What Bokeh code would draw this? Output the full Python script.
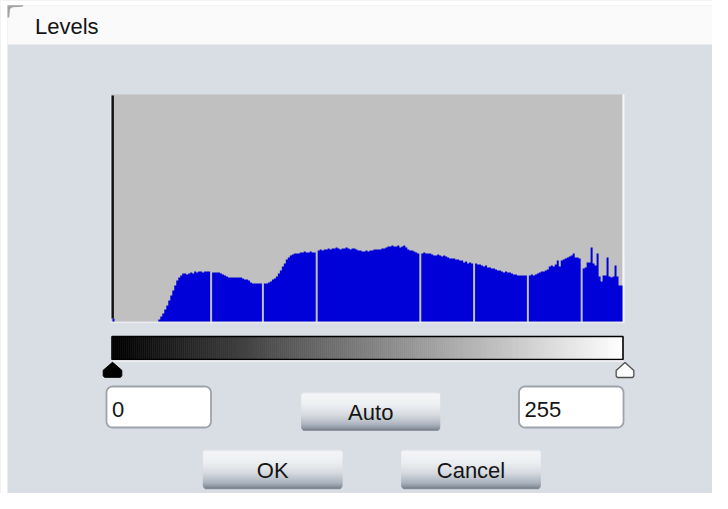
import numpy as np
from bokeh.plotting import figure
from bokeh.models import Range1d
from bokeh.embed import file_html
from bokeh.resources import INLINE
from bokeh.core.properties import value

# ---------------- data ----------------
TITLE = "Levels"
LOW_LEVEL = 0
HIGH_LEVEL = 255
BUTTON_LABELS = ["Auto", "OK", "Cancel"]

# histogram counts for the 256 grey levels
COUNTS = (
    [3] + [0] * 22 +
    [2, 5, 8, 12, 16, 21, 26, 31, 36, 41, 44, 46, 48, 48, 47, 48, 49, 48, 50, 49, 50, 50, 49, 50, 50, 50] +
    [0] +
    [49, 49, 49, 49, 48, 47, 46, 45, 44, 44, 44, 44, 44, 44, 44, 43, 42, 42, 41, 39, 38, 38, 38, 38, 38] +
    [0] +
    [38, 38, 39, 40, 42, 43, 45, 48, 51, 55, 58, 62, 64, 66, 67, 68, 68, 68, 69, 69, 70, 69, 69, 70, 69, 69] +
    [0] +
    [71, 72, 71, 72, 72, 73, 72, 73, 73, 74, 73, 72, 73, 73, 74, 73, 72, 73, 73, 72, 71, 71, 70, 70, 71,
     70, 71, 71, 72, 72, 72, 72, 73, 73, 74, 75, 75, 76, 75, 75, 76, 74, 75, 76, 74, 72, 71, 71, 70, 69, 68] +
    [0] +
    [68, 69, 68, 68, 68, 67, 66, 66, 67, 66, 65, 66, 65, 64, 63, 63, 63, 62, 62, 61, 61, 59, 60, 58, 59, 58] +
    [0] +
    [58, 57, 57, 56, 55, 56, 54, 54, 53, 53, 52, 51, 51, 50, 49, 50, 49, 49, 48, 47, 47, 46, 46, 46, 46, 46] +
    [0] +
    [46, 47, 46, 47, 48, 49, 50, 50, 51, 52, 55, 56, 55, 57, 61, 55, 61, 62, 63, 64, 65, 66, 68, 64, 64, 63] +
    [0] +
    [53, 54, 59, 59, 74, 58, 56, 68, 45, 40, 46, 46, 64, 45, 44, 45, 56, 45, 36, 36]
)
assert len(COUNTS) == 256

# ---------------- layout helpers ----------------
W, H = 712, 493
TEXT_DY = -8.0  # correction for where the svg text baseline lands


def fx(ix):
    return ix


def fy(iy):
    return iy


def ty(iy):
    return iy + TEXT_DY


BODY = "#d9dde4"
TITLEBAR = "#fafafa"
PANEL = "#c0c0c0"
BLUE = "#0000d8"
TEXT = "#151515"
FONT = value("Liberation Sans")

p = figure(width=W, height=H, x_range=Range1d(0, W), y_range=Range1d(H, 0),
           output_backend="svg", toolbar_location=None,
           x_axis_location=None, y_axis_location=None, min_border=0,
           outline_line_color=None, background_fill_color=BODY,
           border_fill_color=BODY)
p.grid.visible = False

# histogram scales (bins -> panel)
NB = len(COUNTS)
PX0, PX1 = fx(112), fx(622)
PY0, PYT = fy(321), fy(94)
span_x = NB * W / (PX1 - PX0)
sx = -PX0 * span_x / W
cmax = PY0 - PYT
span_y = cmax * H / (PY0 - PYT)
sy = -(H - PY0) * span_y / H
p.extra_x_ranges = {"hx": Range1d(sx, sx + span_x)}
p.extra_y_ranges = {"hy": Range1d(sy, sy + span_y)}

# outer white margin + title bar
p.quad(left=[0], right=[fx(7)], top=[0], bottom=[H], fill_color="#ffffff", line_color=None)
p.quad(left=[0], right=[W], top=[0], bottom=[fy(5)], fill_color="#ffffff", line_color=None)
p.quad(left=[fx(7)], right=[W], top=[fy(5)], bottom=[fy(44)], fill_color=TITLEBAR, line_color=None)
p.patch(x=[fx(7), fx(23), fx(22), fx(12), fx(9.5), fx(8.7), fx(7)],
        y=[fy(4.8), fy(4.8), fy(6.3), fy(6.8), fy(8.5), fy(17), fy(17)],
        fill_color="#a2a2a2", line_color=None)
p.text(x=[fx(34.5)], y=[ty(34.3)], text=[TITLE], text_font=FONT, text_font_size="22px",
       text_color=TEXT, text_baseline="alphabetic", text_align="left")

# histogram panel
p.quad(left=[fx(111)], right=[fx(622)], top=[fy(94)], bottom=[fy(321)],
       fill_color=PANEL, line_color=None)
p.segment(x0=[fx(623)], y0=[fy(94)], x1=[fx(623)], y1=[fy(322)], line_color="#f6f6f6", line_width=2)
p.segment(x0=[fx(110)], y0=[fy(322)], x1=[fx(624)], y1=[fy(322)], line_color="#e9ebee", line_width=1.5)
p.segment(x0=[fx(110)], y0=[fy(94)], x1=[fx(110)], y1=[fy(322)], line_color="#e4e6ea", line_width=1)

edges = np.arange(NB + 1)
hx = np.concatenate([[0], np.repeat(edges, 2)[1:-1], [NB]])
hy = np.concatenate([[0], np.repeat(np.array(COUNTS, dtype=float), 2), [0]])
p.patch(x=hx, y=hy, x_range_name="hx", y_range_name="hy",
        fill_color=BLUE, line_color=None)
p.segment(x0=[fx(112.2)], y0=[fy(95)], x1=[fx(112.2)], y1=[fy(318)], line_color="#111111", line_width=2.4)

# gradient bar
levels = np.arange(NB)
greys = ["#%02x%02x%02x" % (g, g, g) for g in levels]
p.quad(left=levels, right=levels + 1, top=fy(336.5), bottom=fy(358.5),
       fill_color=greys, line_color=greys, line_width=0.6, x_range_name="hx")
p.quad(left=[fx(111.5)], right=[fx(622.5)], top=[fy(336)], bottom=[fy(359)],
       fill_color=None, line_color="#000000", line_width=1.6)
p.segment(x0=[fx(111)], y0=[fy(360.5)], x1=[fx(623)], y1=[fy(360.5)], line_color="#f4f5f7", line_width=1.5)


# slider markers
def slider_x(v):
    return fx(112 + v * (624.5 - 112) / 255.0)


house_dx = np.array([0, 9.3, 9.3, 8, -8, -9.3, -9.3])
house_dy = np.array([0, 8, 13.5, 15, 15, 13.5, 8])
mx = slider_x(LOW_LEVEL)
p.patch(x=mx + house_dx, y=fy(361.8) + house_dy, fill_color="#000000", line_color="#000000", line_width=1)
mx = slider_x(HIGH_LEVEL)
p.patch(x=mx + house_dx * 0.95, y=fy(362) + house_dy, fill_color="#ffffff", line_color="#505050", line_width=1.3)


# rounded rect helper
def rrect(x0, y0, x1, y1, r, n=8):
    xs, ys = [], []
    for cx, cy, a0 in [(x1 - r, y0 + r, -90), (x1 - r, y1 - r, 0), (x0 + r, y1 - r, 90), (x0 + r, y0 + r, 180)]:
        for k in range(n + 1):
            a = np.radians(a0 + 90.0 * k / n)
            xs.append(fx(cx + r * np.cos(a)))
            ys.append(fy(cy + r * np.sin(a)))
    return xs, ys


# entry boxes
for (x0, x1), val in [((106, 210.5), LOW_LEVEL), ((518.5, 623), HIGH_LEVEL)]:
    xs, ys = rrect(x0, 386, x1, 427, 6)
    p.patch(x=xs, y=ys, fill_color="#ffffff", line_color="#9ea3ab", line_width=1.8)
    p.text(x=[fx(x0 + 5.5)], y=[ty(416.5)], text=[str(val)], text_font=FONT, text_font_size="22px",
           text_color=TEXT, text_baseline="alphabetic", text_align="left")

# buttons
STOPS = [(0.0, (214, 218, 223)), (0.05, (246, 247, 249)), (0.35, (238, 240, 243)),
         (0.6, (214, 218, 224)), (0.85, (170, 178, 189)), (0.95, (135, 144, 157)), (1.0, (112, 120, 133))]


def grad(t):
    for (t0, c0), (t1, c1) in zip(STOPS[:-1], STOPS[1:]):
        if t <= t1:
            u = (t - t0) / (t1 - t0)
            c = [int(round(a + (b - a) * u)) for a, b in zip(c0, c1)]
            return "#%02x%02x%02x" % tuple(c)
    return "#%02x%02x%02x" % STOPS[-1][1]


def button(x0, y0, x1, y1, label):
    h = int(round(y1 - y0))
    R = 3.5
    L, Rt, T, B, C = [], [], [], [], []
    for r in range(h):
        t = (r + 0.5) / h
        d = min(r + 0.5, h - r - 0.5)
        inset = R - np.sqrt(max(R * R - (R - d) ** 2, 0)) if d < R else 0.0
        L.append(fx(x0 + inset))
        Rt.append(fx(x1 - inset))
        T.append(fy(y0 + r * (y1 - y0) / h))
        B.append(fy(y0 + (r + 1) * (y1 - y0) / h))
        C.append(grad(t))
    p.quad(left=L, right=Rt, top=T, bottom=B, fill_color=C, line_color=C, line_width=0.5)
    p.text(x=[fx((x0 + x1) / 2)], y=[ty(y0 + 28.4)], text=[label], text_font=FONT,
           text_font_size="22px", text_color=TEXT, text_baseline="alphabetic", text_align="center")


button(301, 391.7, 439.5, 430, BUTTON_LABELS[0])
button(202.7, 449.3, 341.7, 488.3, BUTTON_LABELS[1])
button(401, 449.3, 540, 488.3, BUTTON_LABELS[2])

open("out.html", "w").write(file_html(p, INLINE))
